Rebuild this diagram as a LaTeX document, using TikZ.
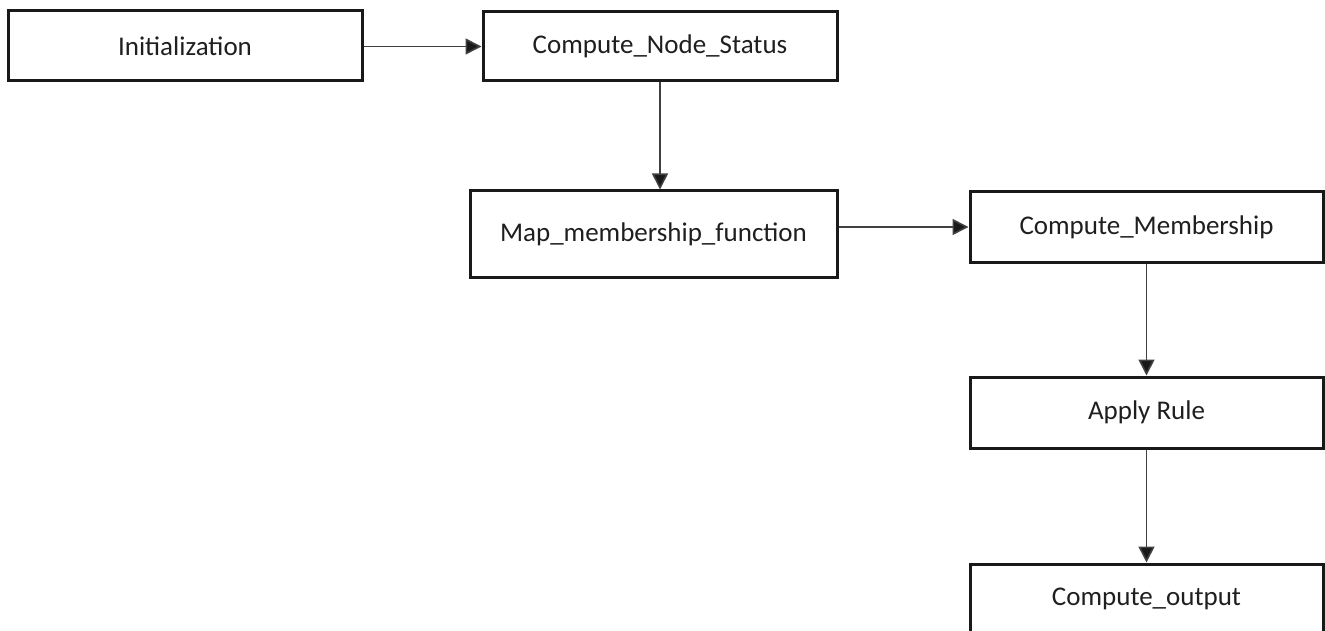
\documentclass[tikz,border=0pt]{standalone}
\usepackage{fontspec}
\setmainfont{Carlito}
\usetikzlibrary{arrows.meta}
\begin{document}
\begin{tikzpicture}[x=1pt,y=-1pt,
  stepbox/.style={draw=black!90, line width=3pt, fill=white, inner sep=0pt,
    font=\fontsize{27}{32}\selectfont, text=black!88},
  flow/.style={draw=black!75, line width=1.6pt,
    -{Triangle[length=16pt,width=16pt,fill=black!90]}}]
  \useasboundingbox (0,0) rectangle (1325,631);

  \node[stepbox, minimum width=354pt, minimum height=70pt] (init) at (185,46) {Initialization};
  \node[stepbox, minimum width=354pt, minimum height=69pt] (cns) at (660,46.5) {Compute\_Node\_Status};
  \node[stepbox, minimum width=367pt, minimum height=86pt] (map) at (653.5,234) {Map\_membership\_function};
  \node[stepbox, minimum width=353pt, minimum height=70pt] (cm) at (1146.5,227) {Compute\_Membership};
  \node[stepbox, minimum width=353pt, minimum height=71pt] (apply) at (1146.5,412.5) {Apply Rule};
  \node[stepbox, minimum width=353pt, minimum height=70pt] (out) at (1146.5,599) {Compute\_output};

  \draw[flow] (init.east |- cns.west) -- (cns.west);
  \draw[flow] (cns.south) -- (cns.south |- map.north);
  \draw[flow] (map.east |- cm.west) -- (cm.west);
  \draw[flow] (cm.south) -- (apply.north);
  \draw[flow] (apply.south) -- (out.north);
\end{tikzpicture}
\end{document}
